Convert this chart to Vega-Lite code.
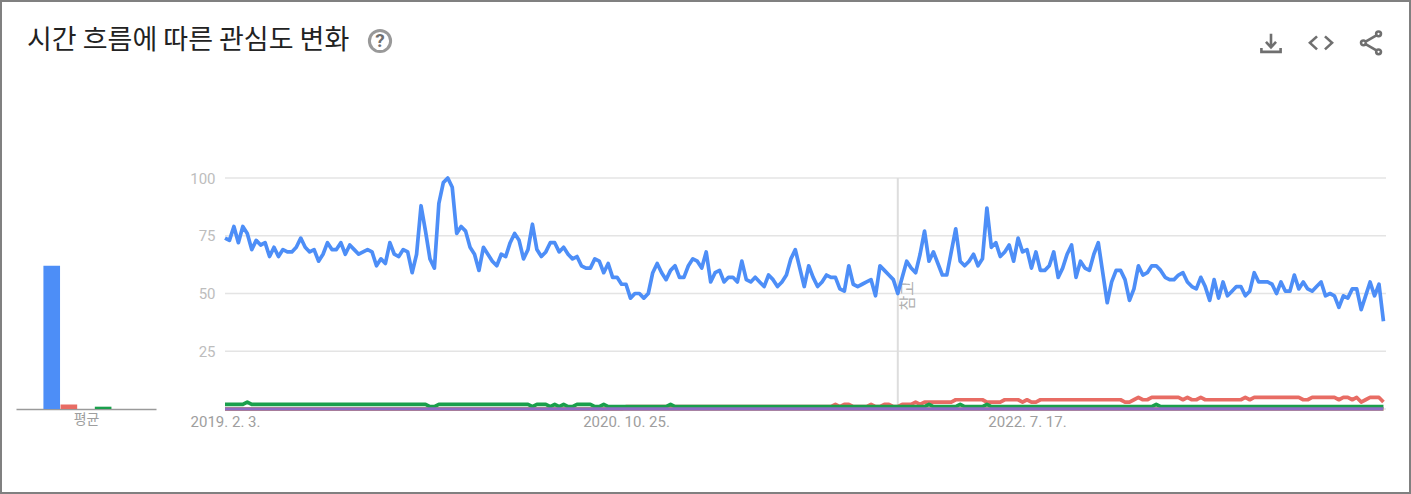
{"$schema":"https://vega.github.io/schema/vega-lite/v6.json","width":1411,"height":494,"padding":0,"autosize":{"type":"none"},"background":"white",
"title":{"text":"시간 흐름에 따른 관심도 변화","anchor":"start","frame":"group","font":"Noto Sans CJK KR","fontSize":27,"fontWeight":"normal","color":"#222222","dx":27,"dy":59},
"view":{"stroke":"#808080","strokeWidth":4,"fill":"white"},
"datasets":{"trend":[
{"date":"2019-02-03","a":74,"b":0,"c":0,"d":2,"e":0},{"date":"2019-02-10","a":73,"b":0,"c":0,"d":2,"e":0},{"date":"2019-02-17","a":79,"b":0,"c":0,"d":2,"e":0},{"date":"2019-02-24","a":72,"b":0,"c":0,"d":2,"e":0},
{"date":"2019-03-03","a":79,"b":0,"c":0,"d":2,"e":0},{"date":"2019-03-10","a":76,"b":0,"c":0,"d":3,"e":0},{"date":"2019-03-17","a":69,"b":0,"c":0,"d":2,"e":0},{"date":"2019-03-24","a":73,"b":0,"c":0,"d":2,"e":0},{"date":"2019-03-31","a":71,"b":0,"c":0,"d":2,"e":0},
{"date":"2019-04-07","a":72,"b":0,"c":0,"d":2,"e":0},{"date":"2019-04-14","a":66,"b":0,"c":0,"d":2,"e":0},{"date":"2019-04-21","a":70,"b":0,"c":0,"d":2,"e":0},{"date":"2019-04-28","a":66,"b":0,"c":0,"d":2,"e":0},
{"date":"2019-05-05","a":69,"b":0,"c":0,"d":2,"e":0},{"date":"2019-05-12","a":68,"b":0,"c":0,"d":2,"e":0},{"date":"2019-05-19","a":68,"b":0,"c":0,"d":2,"e":0},{"date":"2019-05-26","a":70,"b":0,"c":0,"d":2,"e":0},
{"date":"2019-06-02","a":74,"b":0,"c":0,"d":2,"e":0},{"date":"2019-06-09","a":70,"b":0,"c":0,"d":2,"e":0},{"date":"2019-06-16","a":68,"b":0,"c":0,"d":2,"e":0},{"date":"2019-06-23","a":69,"b":0,"c":0,"d":2,"e":0},{"date":"2019-06-30","a":64,"b":0,"c":0,"d":2,"e":0},
{"date":"2019-07-07","a":67,"b":0,"c":0,"d":2,"e":0},{"date":"2019-07-14","a":72,"b":0,"c":0,"d":2,"e":0},{"date":"2019-07-21","a":69,"b":0,"c":0,"d":2,"e":0},{"date":"2019-07-28","a":69,"b":0,"c":0,"d":2,"e":0},
{"date":"2019-08-04","a":72,"b":0,"c":0,"d":2,"e":0},{"date":"2019-08-11","a":67,"b":0,"c":0,"d":2,"e":0},{"date":"2019-08-18","a":71,"b":0,"c":0,"d":2,"e":0},{"date":"2019-08-25","a":69,"b":0,"c":0,"d":2,"e":0},
{"date":"2019-09-01","a":67,"b":0,"c":0,"d":2,"e":0},{"date":"2019-09-08","a":68,"b":0,"c":0,"d":2,"e":0},{"date":"2019-09-15","a":69,"b":0,"c":0,"d":2,"e":0},{"date":"2019-09-22","a":68,"b":0,"c":0,"d":2,"e":0},{"date":"2019-09-29","a":62,"b":0,"c":0,"d":2,"e":0},
{"date":"2019-10-06","a":65,"b":0,"c":0,"d":2,"e":0},{"date":"2019-10-13","a":63,"b":0,"c":0,"d":2,"e":0},{"date":"2019-10-20","a":72,"b":0,"c":0,"d":2,"e":0},{"date":"2019-10-27","a":67,"b":0,"c":0,"d":2,"e":0},
{"date":"2019-11-03","a":66,"b":0,"c":0,"d":2,"e":0},{"date":"2019-11-10","a":69,"b":0,"c":0,"d":2,"e":0},{"date":"2019-11-17","a":68,"b":0,"c":0,"d":2,"e":0},{"date":"2019-11-24","a":59,"b":0,"c":0,"d":2,"e":0},
{"date":"2019-12-01","a":67,"b":0,"c":0,"d":2,"e":0},{"date":"2019-12-08","a":88,"b":0,"c":0,"d":2,"e":0},{"date":"2019-12-15","a":77,"b":0,"c":0,"d":2,"e":0},{"date":"2019-12-22","a":65,"b":0,"c":0,"d":1,"e":0},{"date":"2019-12-29","a":61,"b":0,"c":0,"d":1,"e":0},
{"date":"2020-01-05","a":89,"b":0,"c":0,"d":2,"e":0},{"date":"2020-01-12","a":98,"b":0,"c":0,"d":2,"e":0},{"date":"2020-01-19","a":100,"b":0,"c":0,"d":2,"e":0},{"date":"2020-01-26","a":96,"b":0,"c":0,"d":2,"e":0},
{"date":"2020-02-02","a":76,"b":0,"c":0,"d":2,"e":0},{"date":"2020-02-09","a":79,"b":0,"c":0,"d":2,"e":0},{"date":"2020-02-16","a":77,"b":0,"c":0,"d":2,"e":0},{"date":"2020-02-23","a":70,"b":0,"c":0,"d":2,"e":0},
{"date":"2020-03-01","a":67,"b":0,"c":0,"d":2,"e":0},{"date":"2020-03-08","a":60,"b":0,"c":0,"d":2,"e":0},{"date":"2020-03-15","a":70,"b":0,"c":0,"d":2,"e":0},{"date":"2020-03-22","a":67,"b":0,"c":0,"d":2,"e":0},{"date":"2020-03-29","a":64,"b":0,"c":0,"d":2,"e":0},
{"date":"2020-04-05","a":62,"b":0,"c":0,"d":2,"e":0},{"date":"2020-04-12","a":67,"b":0,"c":0,"d":2,"e":0},{"date":"2020-04-19","a":66,"b":0,"c":0,"d":2,"e":0},{"date":"2020-04-26","a":72,"b":0,"c":0,"d":2,"e":0},
{"date":"2020-05-03","a":76,"b":0,"c":0,"d":2,"e":0},{"date":"2020-05-10","a":73,"b":0,"c":0,"d":2,"e":0},{"date":"2020-05-17","a":65,"b":0,"c":0,"d":2,"e":0},{"date":"2020-05-24","a":69,"b":0,"c":0,"d":2,"e":0},{"date":"2020-05-31","a":80,"b":0,"c":0,"d":1,"e":0},
{"date":"2020-06-07","a":69,"b":0,"c":0,"d":2,"e":0},{"date":"2020-06-14","a":66,"b":0,"c":0,"d":2,"e":0},{"date":"2020-06-21","a":68,"b":0,"c":0,"d":2,"e":0},{"date":"2020-06-28","a":72,"b":0,"c":0,"d":1,"e":0},
{"date":"2020-07-05","a":72,"b":0,"c":0,"d":2,"e":0},{"date":"2020-07-12","a":68,"b":0,"c":0,"d":1,"e":0},{"date":"2020-07-19","a":70,"b":0,"c":0,"d":2,"e":0},{"date":"2020-07-26","a":67,"b":0,"c":0,"d":1,"e":0},
{"date":"2020-08-02","a":65,"b":0,"c":0,"d":1,"e":0},{"date":"2020-08-09","a":66,"b":0,"c":0,"d":2,"e":0},{"date":"2020-08-16","a":62,"b":0,"c":0,"d":2,"e":0},{"date":"2020-08-23","a":61,"b":0,"c":0,"d":2,"e":0},{"date":"2020-08-30","a":61,"b":0,"c":0,"d":2,"e":0},
{"date":"2020-09-06","a":65,"b":0,"c":0,"d":1,"e":0},{"date":"2020-09-13","a":64,"b":0,"c":0,"d":1,"e":0},{"date":"2020-09-20","a":59,"b":0,"c":0,"d":2,"e":0},{"date":"2020-09-27","a":63,"b":0,"c":0,"d":1,"e":0},
{"date":"2020-10-04","a":57,"b":0,"c":0,"d":1,"e":0},{"date":"2020-10-11","a":57,"b":0,"c":0,"d":1,"e":0},{"date":"2020-10-18","a":54,"b":0,"c":0,"d":1,"e":0},{"date":"2020-10-25","a":54,"b":1,"c":0,"d":1,"e":0},
{"date":"2020-11-01","a":48,"b":1,"c":0,"d":1,"e":0},{"date":"2020-11-08","a":50,"b":1,"c":0,"d":1,"e":0},{"date":"2020-11-15","a":50,"b":1,"c":0,"d":1,"e":0},{"date":"2020-11-22","a":48,"b":1,"c":0,"d":1,"e":0},{"date":"2020-11-29","a":50,"b":1,"c":0,"d":1,"e":0},
{"date":"2020-12-06","a":59,"b":1,"c":0,"d":1,"e":0},{"date":"2020-12-13","a":63,"b":1,"c":0,"d":1,"e":0},{"date":"2020-12-20","a":59,"b":1,"c":0,"d":1,"e":0},{"date":"2020-12-27","a":56,"b":1,"c":0,"d":1,"e":0},
{"date":"2021-01-03","a":60,"b":1,"c":0,"d":2,"e":0},{"date":"2021-01-10","a":62,"b":1,"c":0,"d":1,"e":0},{"date":"2021-01-17","a":57,"b":1,"c":0,"d":1,"e":0},{"date":"2021-01-24","a":57,"b":1,"c":0,"d":1,"e":0},{"date":"2021-01-31","a":62,"b":1,"c":0,"d":1,"e":0},
{"date":"2021-02-07","a":65,"b":1,"c":0,"d":1,"e":0},{"date":"2021-02-14","a":64,"b":1,"c":0,"d":1,"e":0},{"date":"2021-02-21","a":61,"b":1,"c":0,"d":1,"e":0},{"date":"2021-02-28","a":68,"b":1,"c":0,"d":1,"e":0},
{"date":"2021-03-07","a":55,"b":1,"c":0,"d":1,"e":0},{"date":"2021-03-14","a":59,"b":1,"c":0,"d":1,"e":0},{"date":"2021-03-21","a":60,"b":1,"c":0,"d":1,"e":0},{"date":"2021-03-28","a":55,"b":1,"c":0,"d":1,"e":0},
{"date":"2021-04-04","a":57,"b":1,"c":0,"d":1,"e":0},{"date":"2021-04-11","a":57,"b":1,"c":0,"d":1,"e":0},{"date":"2021-04-18","a":55,"b":1,"c":0,"d":1,"e":0},{"date":"2021-04-25","a":64,"b":1,"c":0,"d":1,"e":0},
{"date":"2021-05-02","a":56,"b":1,"c":0,"d":1,"e":0},{"date":"2021-05-09","a":55,"b":1,"c":0,"d":1,"e":0},{"date":"2021-05-16","a":57,"b":1,"c":0,"d":1,"e":0},{"date":"2021-05-23","a":55,"b":1,"c":0,"d":1,"e":0},{"date":"2021-05-30","a":53,"b":1,"c":0,"d":1,"e":0},
{"date":"2021-06-06","a":58,"b":1,"c":0,"d":1,"e":0},{"date":"2021-06-13","a":56,"b":1,"c":0,"d":1,"e":0},{"date":"2021-06-20","a":53,"b":1,"c":0,"d":1,"e":0},{"date":"2021-06-27","a":55,"b":1,"c":0,"d":1,"e":0},
{"date":"2021-07-04","a":58,"b":1,"c":0,"d":1,"e":0},{"date":"2021-07-11","a":65,"b":1,"c":0,"d":1,"e":0},{"date":"2021-07-18","a":69,"b":1,"c":0,"d":1,"e":0},{"date":"2021-07-25","a":61,"b":1,"c":0,"d":1,"e":0},
{"date":"2021-08-01","a":53,"b":1,"c":0,"d":1,"e":0},{"date":"2021-08-08","a":62,"b":1,"c":0,"d":1,"e":0},{"date":"2021-08-15","a":57,"b":1,"c":0,"d":1,"e":0},{"date":"2021-08-22","a":53,"b":1,"c":0,"d":1,"e":0},{"date":"2021-08-29","a":55,"b":1,"c":0,"d":1,"e":0},
{"date":"2021-09-05","a":58,"b":1,"c":0,"d":1,"e":0},{"date":"2021-09-12","a":57,"b":1,"c":0,"d":1,"e":0},{"date":"2021-09-19","a":57,"b":2,"c":0,"d":1,"e":0},{"date":"2021-09-26","a":52,"b":1,"c":0,"d":1,"e":0},
{"date":"2021-10-03","a":51,"b":2,"c":0,"d":1,"e":0},{"date":"2021-10-10","a":62,"b":2,"c":0,"d":1,"e":0},{"date":"2021-10-17","a":54,"b":1,"c":0,"d":1,"e":0},{"date":"2021-10-24","a":53,"b":1,"c":0,"d":1,"e":0},{"date":"2021-10-31","a":54,"b":1,"c":0,"d":1,"e":0},
{"date":"2021-11-07","a":55,"b":1,"c":0,"d":1,"e":0},{"date":"2021-11-14","a":56,"b":2,"c":0,"d":1,"e":0},{"date":"2021-11-21","a":49,"b":1,"c":0,"d":1,"e":0},{"date":"2021-11-28","a":62,"b":1,"c":0,"d":1,"e":0},
{"date":"2021-12-05","a":60,"b":2,"c":0,"d":1,"e":0},{"date":"2021-12-12","a":58,"b":2,"c":0,"d":1,"e":0},{"date":"2021-12-19","a":56,"b":1,"c":0,"d":1,"e":0},{"date":"2021-12-26","a":50,"b":1,"c":0,"d":1,"e":0},
{"date":"2022-01-02","a":57,"b":2,"c":0,"d":1,"e":0},{"date":"2022-01-09","a":64,"b":2,"c":0,"d":1,"e":0},{"date":"2022-01-16","a":61,"b":2,"c":0,"d":1,"e":0},{"date":"2022-01-23","a":59,"b":3,"c":0,"d":1,"e":0},{"date":"2022-01-30","a":67,"b":2,"c":0,"d":1,"e":0},
{"date":"2022-02-06","a":77,"b":3,"c":0,"d":1,"e":0},{"date":"2022-02-13","a":64,"b":3,"c":0,"d":2,"e":0},{"date":"2022-02-20","a":68,"b":3,"c":0,"d":1,"e":0},{"date":"2022-02-27","a":63,"b":3,"c":0,"d":1,"e":0},
{"date":"2022-03-06","a":58,"b":3,"c":0,"d":1,"e":0},{"date":"2022-03-13","a":58,"b":3,"c":0,"d":1,"e":0},{"date":"2022-03-20","a":68,"b":3,"c":0,"d":1,"e":0},{"date":"2022-03-27","a":78,"b":4,"c":0,"d":1,"e":0},
{"date":"2022-04-03","a":64,"b":4,"c":0,"d":2,"e":0},{"date":"2022-04-10","a":62,"b":4,"c":0,"d":1,"e":0},{"date":"2022-04-17","a":64,"b":4,"c":0,"d":1,"e":0},{"date":"2022-04-24","a":67,"b":4,"c":0,"d":1,"e":0},
{"date":"2022-05-01","a":62,"b":4,"c":0,"d":1,"e":0},{"date":"2022-05-08","a":65,"b":4,"c":0,"d":1,"e":0},{"date":"2022-05-15","a":87,"b":3,"c":0,"d":2,"e":0},{"date":"2022-05-22","a":70,"b":3,"c":0,"d":1,"e":0},{"date":"2022-05-29","a":72,"b":3,"c":0,"d":1,"e":0},
{"date":"2022-06-05","a":66,"b":3,"c":0,"d":1,"e":0},{"date":"2022-06-12","a":68,"b":4,"c":0,"d":1,"e":0},{"date":"2022-06-19","a":71,"b":4,"c":0,"d":1,"e":0},{"date":"2022-06-26","a":64,"b":4,"c":0,"d":1,"e":0},
{"date":"2022-07-03","a":74,"b":4,"c":0,"d":1,"e":0},{"date":"2022-07-10","a":68,"b":3,"c":0,"d":1,"e":0},{"date":"2022-07-17","a":69,"b":4,"c":0,"d":1,"e":0},{"date":"2022-07-24","a":61,"b":3,"c":0,"d":1,"e":0},{"date":"2022-07-31","a":68,"b":3,"c":0,"d":1,"e":0},
{"date":"2022-08-07","a":60,"b":4,"c":0,"d":1,"e":0},{"date":"2022-08-14","a":60,"b":4,"c":0,"d":1,"e":0},{"date":"2022-08-21","a":62,"b":4,"c":0,"d":1,"e":0},{"date":"2022-08-28","a":68,"b":4,"c":0,"d":1,"e":0},
{"date":"2022-09-04","a":57,"b":4,"c":0,"d":1,"e":0},{"date":"2022-09-11","a":61,"b":4,"c":0,"d":1,"e":0},{"date":"2022-09-18","a":67,"b":4,"c":0,"d":1,"e":0},{"date":"2022-09-25","a":71,"b":4,"c":0,"d":1,"e":0},
{"date":"2022-10-02","a":57,"b":4,"c":0,"d":1,"e":0},{"date":"2022-10-09","a":64,"b":4,"c":0,"d":1,"e":0},{"date":"2022-10-16","a":61,"b":4,"c":0,"d":1,"e":0},{"date":"2022-10-23","a":60,"b":4,"c":0,"d":1,"e":0},{"date":"2022-10-30","a":67,"b":4,"c":0,"d":1,"e":0},
{"date":"2022-11-06","a":72,"b":4,"c":0,"d":1,"e":0},{"date":"2022-11-13","a":59,"b":4,"c":0,"d":1,"e":0},{"date":"2022-11-20","a":46,"b":4,"c":0,"d":1,"e":0},{"date":"2022-11-27","a":55,"b":4,"c":0,"d":1,"e":0},
{"date":"2022-12-04","a":60,"b":4,"c":0,"d":1,"e":0},{"date":"2022-12-11","a":60,"b":4,"c":0,"d":1,"e":0},{"date":"2022-12-18","a":56,"b":3,"c":0,"d":1,"e":0},{"date":"2022-12-25","a":47,"b":3,"c":0,"d":1,"e":0},
{"date":"2023-01-01","a":52,"b":4,"c":0,"d":1,"e":0},{"date":"2023-01-08","a":62,"b":5,"c":0,"d":1,"e":0},{"date":"2023-01-15","a":58,"b":4,"c":0,"d":1,"e":0},{"date":"2023-01-22","a":59,"b":4,"c":0,"d":1,"e":0},{"date":"2023-01-29","a":62,"b":5,"c":0,"d":1,"e":0},
{"date":"2023-02-05","a":62,"b":5,"c":0,"d":2,"e":0},{"date":"2023-02-12","a":60,"b":5,"c":0,"d":1,"e":0},{"date":"2023-02-19","a":57,"b":5,"c":0,"d":1,"e":0},{"date":"2023-02-26","a":56,"b":5,"c":0,"d":1,"e":0},
{"date":"2023-03-05","a":56,"b":5,"c":0,"d":1,"e":0},{"date":"2023-03-12","a":58,"b":5,"c":0,"d":1,"e":0},{"date":"2023-03-19","a":59,"b":4,"c":0,"d":1,"e":0},{"date":"2023-03-26","a":55,"b":5,"c":0,"d":1,"e":0},
{"date":"2023-04-02","a":53,"b":4,"c":0,"d":1,"e":0},{"date":"2023-04-09","a":52,"b":4,"c":0,"d":1,"e":0},{"date":"2023-04-16","a":57,"b":5,"c":0,"d":1,"e":0},{"date":"2023-04-23","a":53,"b":4,"c":0,"d":1,"e":0},{"date":"2023-04-30","a":47,"b":4,"c":0,"d":1,"e":0},
{"date":"2023-05-07","a":56,"b":4,"c":0,"d":1,"e":0},{"date":"2023-05-14","a":48,"b":4,"c":0,"d":1,"e":0},{"date":"2023-05-21","a":55,"b":4,"c":0,"d":1,"e":0},{"date":"2023-05-28","a":49,"b":4,"c":0,"d":1,"e":0},
{"date":"2023-06-04","a":51,"b":4,"c":0,"d":1,"e":0},{"date":"2023-06-11","a":53,"b":4,"c":0,"d":1,"e":0},{"date":"2023-06-18","a":53,"b":4,"c":0,"d":1,"e":0},{"date":"2023-06-25","a":49,"b":5,"c":0,"d":1,"e":0},
{"date":"2023-07-02","a":51,"b":4,"c":0,"d":1,"e":0},{"date":"2023-07-09","a":59,"b":5,"c":0,"d":1,"e":0},{"date":"2023-07-16","a":55,"b":5,"c":0,"d":1,"e":0},{"date":"2023-07-23","a":55,"b":5,"c":0,"d":1,"e":0},{"date":"2023-07-30","a":55,"b":5,"c":0,"d":1,"e":0},
{"date":"2023-08-06","a":54,"b":5,"c":0,"d":1,"e":0},{"date":"2023-08-13","a":50,"b":5,"c":0,"d":1,"e":0},{"date":"2023-08-20","a":55,"b":5,"c":0,"d":1,"e":0},{"date":"2023-08-27","a":51,"b":5,"c":0,"d":1,"e":0},
{"date":"2023-09-03","a":51,"b":5,"c":0,"d":1,"e":0},{"date":"2023-09-10","a":58,"b":5,"c":0,"d":1,"e":0},{"date":"2023-09-17","a":52,"b":5,"c":0,"d":1,"e":0},{"date":"2023-09-24","a":55,"b":4,"c":0,"d":1,"e":0},
{"date":"2023-10-01","a":52,"b":4,"c":0,"d":1,"e":0},{"date":"2023-10-08","a":51,"b":5,"c":0,"d":1,"e":0},{"date":"2023-10-15","a":53,"b":5,"c":0,"d":1,"e":0},{"date":"2023-10-22","a":55,"b":5,"c":0,"d":1,"e":0},{"date":"2023-10-29","a":49,"b":5,"c":0,"d":1,"e":0},
{"date":"2023-11-05","a":50,"b":5,"c":0,"d":1,"e":0},{"date":"2023-11-12","a":49,"b":5,"c":0,"d":1,"e":0},{"date":"2023-11-19","a":44,"b":4,"c":0,"d":1,"e":0},{"date":"2023-11-26","a":49,"b":5,"c":0,"d":1,"e":0},
{"date":"2023-12-03","a":48,"b":5,"c":0,"d":1,"e":0},{"date":"2023-12-10","a":52,"b":4,"c":0,"d":1,"e":0},{"date":"2023-12-17","a":52,"b":5,"c":0,"d":1,"e":0},{"date":"2023-12-24","a":43,"b":3,"c":0,"d":1,"e":0},{"date":"2023-12-31","a":49,"b":4,"c":0,"d":1,"e":0},
{"date":"2024-01-07","a":55,"b":5,"c":0,"d":1,"e":0},{"date":"2024-01-14","a":49,"b":5,"c":0,"d":1,"e":0},{"date":"2024-01-21","a":54,"b":5,"c":0,"d":1,"e":0},{"date":"2024-01-28","a":38,"b":3,"c":0,"d":1,"e":0}
]},
"layer":[
{"layer":[
{"data":{"values":[{"v":0},{"v":25},{"v":50},{"v":75},{"v":100}]},"mark":{"type":"rule","color":"#e4e4e4","strokeWidth":1.6},
"encoding":{"y":{"field":"v","type":"quantitative","scale":{"domain":[0,100],"range":[409,178]},"axis":{"values":[25,50,75,100],"orient":"left","offset":-215,"domain":false,"ticks":false,"grid":false,"title":null,"labelPadding":0,"labelFont":"Roboto","labelFontSize":15,"labelColor":"#bdbdbd"}},
"x":{"datum":{"year":2019,"month":2,"date":3,"utc":true},"type":"temporal","scale":{"type":"utc","domain":[{"year":2019,"month":2,"date":3,"utc":true},{"year":2024,"month":2,"date":1,"utc":true}],"range":[225,1386]},"axis":{"values":[{"year":2019,"month":2,"date":3,"utc":true},{"year":2020,"month":10,"date":25,"utc":true},{"year":2022,"month":7,"date":17,"utc":true}],"format":"%Y. %-m. %-d.","orient":"bottom","offset":-85,"domain":false,"ticks":false,"grid":false,"title":null,"labelPadding":5,"labelFont":"Roboto","labelFontSize":15,"labelColor":"#9e9e9e","labelFlush":false,"labelOverlap":false}},
"x2":{"datum":{"year":2024,"month":2,"date":1,"utc":true}}}},
{"data":{"values":[{"date":"2021-12-26","top":100,"bottom":0,"note":"참고","at":49}]},"layer":[
{"mark":{"type":"rule","color":"#dddddd","strokeWidth":2},"encoding":{"x":{"field":"date","type":"temporal"},"y":{"field":"top","type":"quantitative"},"y2":{"field":"bottom"}}},
{"mark":{"type":"text","angle":270,"dy":10,"font":"Noto Sans CJK KR","fontSize":16,"color":"#b0b0b0","baseline":"middle","align":"center"},"encoding":{"x":{"field":"date","type":"temporal"},"y":{"field":"at","type":"quantitative"},"text":{"field":"note"}}}
]},
{"data":{"name":"trend"},"transform":[{"fold":["a","b","c","d","e"],"as":["term","value"]}],"mark":{"type":"line","strokeWidth":3.7,"interpolate":"linear","strokeJoin":"round"},
"encoding":{"x":{"field":"date","type":"temporal"},"y":{"field":"value","type":"quantitative"},"color":{"field":"term","type":"nominal","legend":null,"scale":{"domain":["a","b","c","d","e"],"range":["#4d8ef7","#e86c64","#f4b400","#1a9f4c","#8e6cc4"]}}}}
]},
{"data":{"values":[{"term":"a","avg":62},{"term":"b","avg":2},{"term":"c","avg":0},{"term":"d","avg":1},{"term":"e","avg":0}]},"mark":{"type":"bar"},
"encoding":{"x":{"field":"term","type":"nominal","scale":{"type":"band","domain":["p","a","b","c","d","e","q"],"range":[16,156],"paddingInner":0.03,"paddingOuter":0.6},"axis":{"orient":"bottom","offset":-85,"labels":false,"ticks":false,"grid":false,"domain":true,"domainColor":"#9a9a9a","domainWidth":1.5,"title":"평균","titleFont":"Noto Sans CJK KR","titleFontSize":14,"titleFontWeight":"normal","titleColor":"#9e9e9e","titlePadding":3}},
"y":{"field":"avg","type":"quantitative"},"color":{"field":"term","type":"nominal","legend":null}}},
{"data":{"values":[{"icon":"help","at":159.3,"glyph":"?"}]},"layer":[
{"mark":{"type":"point","shape":"circle","size":450,"filled":false,"stroke":"#6f6f6f","strokeWidth":3},"encoding":{"x":{"field":"icon","type":"nominal","scale":{"type":"point","domain":["help","help2"],"range":[380,1000],"padding":0},"axis":null},"y":{"field":"at","type":"quantitative"}}},
{"mark":{"type":"text","font":"Roboto","fontWeight":"bold","fontSize":19,"color":"#6f6f6f","baseline":"middle","align":"center"},"encoding":{"x":{"field":"icon","type":"nominal"},"y":{"field":"at","type":"quantitative"},"text":{"field":"glyph"}}}
]},
{"data":{"values":[{"icon":"download","at":158.5},{"icon":"code","at":158.5},{"icon":"share","at":158.5}]},"mark":{"type":"point","filled":false,"stroke":"#333333","strokeWidth":2.6,"size":576},
"encoding":{"x":{"field":"icon","type":"nominal","scale":{"type":"point","domain":["download","code","share"],"range":[1271,1371],"padding":0},"axis":null},"y":{"field":"at","type":"quantitative"},
"shape":{"field":"icon","type":"nominal","legend":null,"scale":{"domain":["download","code","share"],"range":["M0,-.75L0,.33M-.42,-.08L0,.38L.42,-.08M-.8,.42L-.8,.75L.8,.75L.8,.42","M-.33,-.54L-.92,0L-.33,.54M.33,-.54L.92,0L.33,.54","M.83,-.75A.2,.2 0 1 0 .43,-.75A.2,.2 0 1 0 .83,-.75ZM-.43,0A.2,.2 0 1 0 -.83,0A.2,.2 0 1 0 -.43,0ZM.83,.75A.2,.2 0 1 0 .43,.75A.2,.2 0 1 0 .83,.75ZM-.45,-.1L.45,-.62M-.45,.1L.45,.62"]}}}}
],
"resolve":{"scale":{"x":"independent"}},
"config":{"axis":{"grid":false}}}
